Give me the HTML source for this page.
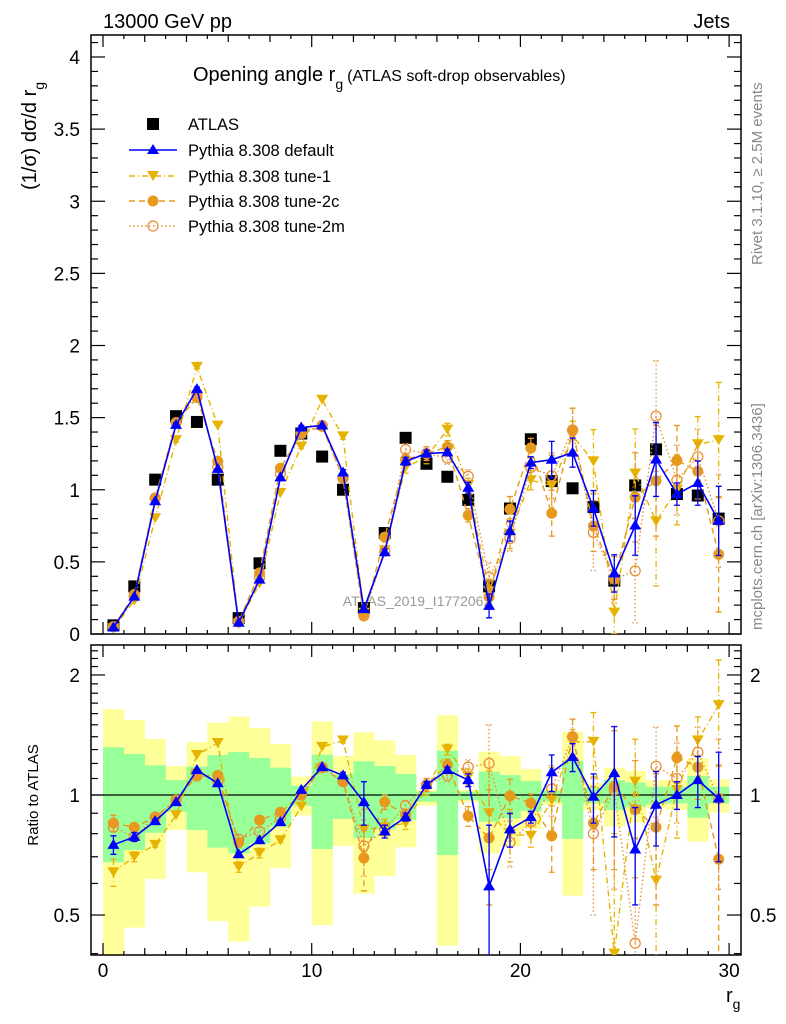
<!DOCTYPE html>
<html><head><meta charset="utf-8"><style>
html,body{margin:0;padding:0;background:#fff;width:786px;height:1024px;overflow:hidden}
svg{display:block;font-family:"Liberation Sans",sans-serif;overflow:hidden}
</style></head><body>
<svg id="c" width="786" height="1024" viewBox="0 0 786 1024"></svg>
<script>
const bins=[0,1,2,3,4,5,6,7,8,9,10,11,12,13,14,15,16,17,18,19,20,21,22,23,24,25,26,27,28,29];
const atlas=[0.06,0.33,1.07,1.51,1.47,1.07,0.11,0.49,1.27,1.39,1.23,1.0,0.18,0.70,1.36,1.18,1.09,0.93,0.33,0.87,1.35,1.06,1.01,0.88,0.37,1.03,1.28,0.97,0.96,0.80];
const rDefault=[0.75,0.785,0.86,0.96,1.155,1.07,0.71,0.77,0.855,1.03,1.175,1.12,0.96,0.81,0.88,1.06,1.155,1.09,0.59,0.82,0.88,1.14,1.245,0.99,1.135,0.73,0.945,1.0,1.09,0.98];
const rTune1=[0.64,0.70,0.75,0.89,1.26,1.35,0.66,0.715,0.77,0.935,1.32,1.37,0.82,0.83,0.85,1.04,1.30,1.11,0.90,0.80,0.79,0.97,1.36,1.36,0.40,1.08,0.61,1.03,1.37,1.68];
const rTune2c=[0.85,0.83,0.88,0.97,1.115,1.12,0.76,0.865,0.905,1.0,1.17,1.08,0.695,0.96,0.89,1.06,1.19,0.885,0.78,0.995,0.955,0.79,1.40,0.85,1.05,0.92,0.83,1.24,1.175,0.69];
const rTune2m=[0.83,0.785,0.88,0.97,1.135,1.08,0.775,0.81,0.875,1.0,1.175,1.08,0.745,0.82,0.94,1.06,1.12,1.175,1.20,0.76,0.855,1.035,1.40,0.80,1.03,0.425,1.18,1.10,1.28,0.98];
const eDefault=[0.04,0.02,0.01,0.01,0.01,0.01,0.01,0.01,0.01,0.01,0.01,0.02,0.12,0.03,0.02,0.02,0.02,0.04,0.25,0.08,0.03,0.12,0.1,0.14,0.35,0.2,0.2,0.08,0.16,0.3];
const eTune1=[0.05,0.02,0.01,0.01,0.01,0.01,0.02,0.02,0.01,0.01,0.01,0.02,0.1,0.04,0.03,0.04,0.04,0.05,0.25,0.12,0.05,0.2,0.1,0.25,0.4,0.3,0.35,0.25,0.2,0.5];
const eTune2c=[0.04,0.02,0.01,0.01,0.01,0.01,0.02,0.02,0.01,0.01,0.01,0.02,0.12,0.04,0.03,0.04,0.04,0.05,0.25,0.1,0.05,0.15,0.15,0.2,0.4,0.3,0.3,0.25,0.2,0.5];
const eTune2m=[0.04,0.02,0.01,0.01,0.01,0.01,0.02,0.02,0.01,0.01,0.01,0.02,0.12,0.04,0.03,0.04,0.04,0.05,0.3,0.1,0.05,0.15,0.15,0.3,0.45,0.35,0.3,0.25,0.2,0.4];
const yelLo=[0.397,0.465,0.616,0.817,0.640,0.483,0.429,0.525,0.656,0.888,0.472,0.745,0.565,0.626,0.739,0.940,0.419,0.958,0.714,0.745,0.823,0.944,0.559,0.917,0.833,0.853,0.926,0.917,0.764,0.903];
const yelHi=[1.643,1.542,1.382,1.182,1.358,1.516,1.572,1.473,1.343,1.112,1.530,1.252,1.436,1.371,1.26,1.029,1.585,1.029,1.284,1.252,1.162,1.039,1.442,1.070,1.171,1.149,1.09,1.09,1.236,1.095];
const grnLo=[0.678,0.728,0.804,0.908,0.817,0.738,0.714,0.756,0.833,0.940,0.732,0.871,0.779,0.820,0.866,0.962,0.707,0.971,0.857,0.874,0.912,0.962,0.776,0.953,0.917,0.931,0.949,0.953,0.877,0.953];
const grnHi=[1.317,1.267,1.187,1.09,1.178,1.26,1.282,1.238,1.171,1.055,1.262,1.127,1.215,1.182,1.129,1.02,1.292,1.02,1.144,1.122,1.084,1.025,1.219,1.043,1.09,1.074,1.049,1.049,1.116,1.049];
const mainTicks=["0","0.5","1","1.5","2","2.5","3","3.5","4"];
const ratioTicks=["0.5","1","2"];
const xTicks=["0","10","20","30"];

const NS="http://www.w3.org/2000/svg";
const svg=document.getElementById('c');
function mk(tag,attrs,parent,txt){const e=document.createElementNS(NS,tag);for(const k in attrs)e.setAttribute(k,attrs[k]);if(txt!==undefined)e.textContent=txt;(parent||svg).appendChild(e);return e;}
const L=91,R=741,MT=35,MB=634,RT=645,RB=955;
const X=v=>103+20.87*v;
const YM=v=>634-144.25*v;
const YR=v=>795-398.7*Math.log10(Math.max(v,0.01));

const defs=mk('defs',{});
const cp1=mk('clipPath',{id:'cm'},defs);mk('rect',{x:L,y:MT,width:R-L,height:MB-MT},cp1);
const cp2=mk('clipPath',{id:'cr'},defs);mk('rect',{x:L,y:RT,width:R-L,height:RB-RT},cp2);

const gb=mk('g',{'clip-path':'url(#cr)'});

bins.forEach(i=>{
  const r1=mk('rect',{x:X(i),y:YR(yelHi[i]),width:20.87+0.3,height:YR(yelLo[i])-YR(yelHi[i]),fill:'#ffff99'},gb);
  
});
bins.forEach(i=>{
  const r2=mk('rect',{x:X(i),y:YR(grnHi[i]),width:20.87+0.3,height:YR(grnLo[i])-YR(grnHi[i]),fill:'#99ff99'},gb);
  
});
const one=mk('line',{x1:L,x2:R,y1:YR(1),y2:YR(1),stroke:'#000','stroke-width':1.3});


[[MT,MB,'main-frame'],[RT,RB,'ratio-frame']].forEach(([t,b,n])=>{const f=mk('rect',{x:L,y:t,width:R-L,height:b-t,fill:'none',stroke:'#000','stroke-width':1.5});});

[[MT,MB],[RT,RB]].forEach(([t,b])=>{
  for(let v=0;v<=30;v++){
    const len=v%10==0?12:(v%2==0?7:4);
    mk('line',{x1:X(v),x2:X(v),y1:b,y2:b-len,stroke:'#000','stroke-width':1.2});
    mk('line',{x1:X(v),x2:X(v),y1:t,y2:t+len,stroke:'#000','stroke-width':1.2});
  }
});
xTicks.forEach(s=>{const t=mk('text',{x:X(+s),y:977,'font-size':19,'text-anchor':'middle'},svg,s);});
for(let k=0;k<=41;k++){const v=k/10;const y=YM(v);const len=k%5==0?14:7;
  mk('line',{x1:L,x2:L+len,y1:y,y2:y,stroke:'#000','stroke-width':1.2});
  mk('line',{x1:R,x2:R-len,y1:y,y2:y,stroke:'#000','stroke-width':1.2});}
mainTicks.forEach(s=>{const t=mk('text',{x:80,y:YM(+s)+7,'font-size':19,'text-anchor':'end'},svg,s);});
for(let k=4;k<=23;k++){const v=k/10;const y=YR(v);const maj=(k==5||k==10||k==20);const len=maj?14:7;
  mk('line',{x1:L,x2:L+len,y1:y,y2:y,stroke:'#000','stroke-width':1.2});
  mk('line',{x1:R,x2:R-len,y1:y,y2:y,stroke:'#000','stroke-width':1.2});}
ratioTicks.forEach(s=>{
  const t=mk('text',{x:80,y:YR(+s)+7,'font-size':19,'text-anchor':'end'},svg,s);
  const t2=mk('text',{x:750,y:YR(+s)+7,'font-size':19},svg,s);
});

const wm=mk('text',{x:417,y:606,'font-size':14,fill:'#999','text-anchor':'middle'},svg,'ATLAS_2019_I1772062');


const series=[
 {n:'tune-1',r:rTune1,e:eTune1,c:'#e6b400',dash:'6,3,1,3',m:'down'},
 {n:'tune-2c',r:rTune2c,e:eTune2c,c:'#e69a1c',dash:'6,4',m:'dot'},
 {n:'tune-2m',r:rTune2m,e:eTune2m,c:'#e8913a',dash:'1.5,2.5',m:'ring'},
 {n:'default',r:rDefault,e:eDefault,c:'#0000ff',dash:'',m:'up'}
];
function marker(g,type,x,y,c){
  if(type=='up')return mk('path',{d:`M${x},${y-6}L${x+6},${y+4}L${x-6},${y+4}Z`,fill:c},g);
  if(type=='down')return mk('path',{d:`M${x},${y+5}L${x+6},${y-5}L${x-6},${y-5}Z`,fill:c},g);
  if(type=='dot')return mk('circle',{cx:x,cy:y,r:5.5,fill:c},g);
  if(type=='ring')return mk('circle',{cx:x,cy:y,r:5,fill:'none',stroke:c,'stroke-width':1.3},g);
  if(type=='sq')return mk('rect',{x:x-6,y:y-6,width:12,height:12,fill:c},g);
}
function drawPanel(clip,yf,valf,errf,tag){
  series.forEach(s=>{
    const g=mk('g',{'clip-path':`url(#${clip})`});
    
    const pts=bins.map(i=>[X(i+0.5),yf(valf(s,i))]);
    const ln=mk('polyline',{points:pts.map(p=>p.join(',')).join(' '),fill:'none',stroke:s.c,'stroke-width':s.n=='default'?1.6:1.4,'stroke-dasharray':s.dash},g);
    
    bins.forEach(i=>{
      const v=valf(s,i),er=errf(s,i);
      const y1=yf(v+er),y2=yf(Math.max(v-er,0.001));
      if(Math.abs(y2-y1)>4){
        const eb=mk('path',{d:`M${X(i+0.5)},${y1}V${y2}M${X(i+0.5)-3},${y1}H${X(i+0.5)+3}M${X(i+0.5)-3},${y2}H${X(i+0.5)+3}`,stroke:s.c,'stroke-width':1.3,'stroke-dasharray':s.dash,fill:'none'},g);
        
      }
      const m=marker(g,s.m,X(i+0.5),yf(v),s.c);
      
    });
  });
}
const ga=mk('g',{'clip-path':'url(#cm)'});

bins.forEach(i=>{const m=marker(ga,'sq',X(i+0.5),YM(atlas[i]),'#000');});
drawPanel('cm',YM,(s,i)=>s.r[i]*atlas[i],(s,i)=>s.e[i]*atlas[i],'main');
drawPanel('cr',YR,(s,i)=>s.r[i],(s,i)=>s.e[i],'ratio');

const lg=mk('g',{});
const leg=[['ATLAS',null],['Pythia 8.308 default',series[3]],['Pythia 8.308 tune-1',series[0]],['Pythia 8.308 tune-2c',series[1]],['Pythia 8.308 tune-2m',series[2]]];
const ly=[124,150,176,201,226];
leg.forEach((l,k)=>{
  const y=ly[k];
  const eg=mk('g',{},lg);
  if(l[1]){mk('line',{x1:129,x2:177,y1:y,y2:y,stroke:l[1].c,'stroke-width':1.4,'stroke-dasharray':l[1].dash},eg);marker(eg,l[1].m,153,y,l[1].c);}
  else marker(eg,'sq',153,y,'#000');
  mk('text',{x:188,y:y+6,'font-size':16.5},eg,l[0]);
});

function txt(name,attrs,s){const t=mk('text',attrs,svg,s);return t;}
txt('energy-label',{x:103,y:28,'font-size':20},'13000 GeV pp');
txt('process-label',{x:730,y:28,'font-size':20,'text-anchor':'end'},'Jets');
const ti=txt('plot-title',{x:193,y:81,'font-size':20},'');
mk('tspan',{},ti,'Opening angle r');mk('tspan',{'font-size':14,dy:8},ti,'g');mk('tspan',{'font-size':16,dy:-8,dx:4},ti,'(ATLAS soft-drop observables)');
const yt=txt('y-axis-title',{transform:'translate(36,190) rotate(-90)','font-size':20},'');
mk('tspan',{},yt,'(1/σ) dσ/d r');mk('tspan',{'font-size':14,dy:8},yt,'g');
txt('ratio-axis-title',{transform:'translate(38,795) rotate(-90)','font-size':15,'text-anchor':'middle'},'Ratio to ATLAS');
const xt=txt('x-axis-title',{x:726,y:1002,'font-size':20},'');
mk('tspan',{},xt,'r');mk('tspan',{'font-size':14,dy:7},xt,'g');
txt('rivet-label',{transform:'translate(762,265) rotate(-90)','font-size':15,fill:'#888'},'Rivet 3.1.10, ≥ 2.5M events');
txt('mcplots-label',{transform:'translate(762,630) rotate(-90)','font-size':15,fill:'#888'},'mcplots.cern.ch [arXiv:1306.3436]');
</script>
</body></html>
